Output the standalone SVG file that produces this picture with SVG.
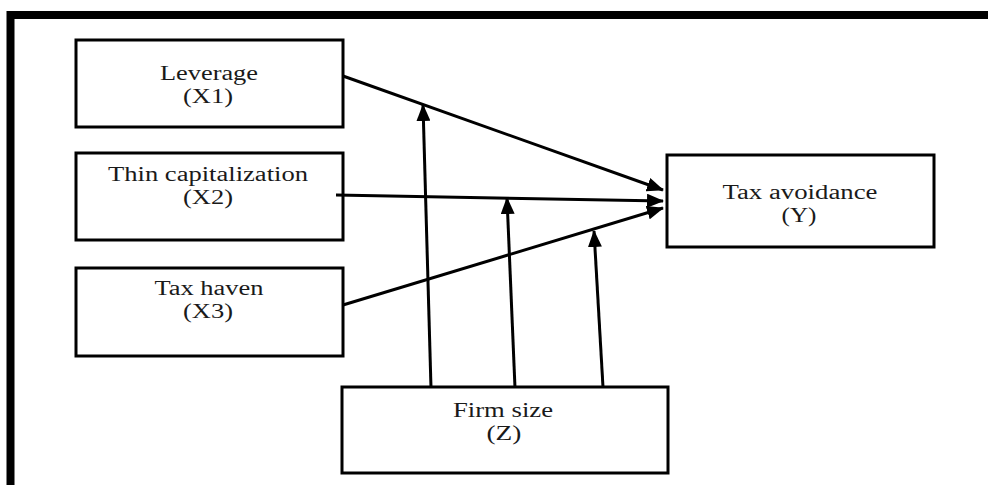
<svg xmlns="http://www.w3.org/2000/svg" width="988" height="485" viewBox="0 0 988 485">
<style>
.box{fill:#fff;stroke:#000;stroke-width:3}
.lbl{font-family:"Liberation Serif","Times New Roman",serif;font-size:20px;fill:#1a1a1a;text-anchor:middle}
.conn{stroke:#000;stroke-width:3;fill:none;marker-end:url(#ah)}
.frame{fill:none;stroke:#000;stroke-width:8}
</style>
<defs>
<marker id="ah" markerUnits="userSpaceOnUse" markerWidth="17" markerHeight="14" refX="16" refY="7" orient="auto">
<path d="M0,0 L17,7 L0,14 Z" fill="#000"/>
</marker>
</defs>
<rect width="988" height="485" fill="#fff"/>
<path class="frame" d="M10.5,485 V15 H988"/>
<g id="leverage">
<rect class="box" x="76" y="40" width="267" height="87"/>
<text class="lbl" x="209" y="80" textLength="98" lengthAdjust="spacingAndGlyphs">Leverage</text>
<text class="lbl" x="208" y="103" textLength="50" lengthAdjust="spacingAndGlyphs">(X1)</text>
</g>
<g id="thincap">
<rect class="box" x="76" y="153" width="267" height="87"/>
<text class="lbl" x="208" y="181" textLength="200" lengthAdjust="spacingAndGlyphs">Thin capitalization</text>
<text class="lbl" x="208" y="204" textLength="50" lengthAdjust="spacingAndGlyphs">(X2)</text>
</g>
<g id="taxhaven">
<rect class="box" x="76" y="268" width="267" height="88"/>
<text class="lbl" x="209" y="295" textLength="109" lengthAdjust="spacingAndGlyphs">Tax haven</text>
<text class="lbl" x="208" y="318" textLength="50" lengthAdjust="spacingAndGlyphs">(X3)</text>
</g>
<g id="taxavoidance">
<rect class="box" x="667" y="155" width="267" height="92"/>
<text class="lbl" x="800" y="199" textLength="155" lengthAdjust="spacingAndGlyphs">Tax avoidance</text>
<text class="lbl" x="799" y="222" textLength="35" lengthAdjust="spacingAndGlyphs">(Y)</text>
</g>
<g id="firmsize">
<rect class="box" x="342" y="387" width="326" height="86"/>
<text class="lbl" x="503" y="417" textLength="100" lengthAdjust="spacingAndGlyphs">Firm size</text>
<text class="lbl" x="504" y="440" textLength="35" lengthAdjust="spacingAndGlyphs">(Z)</text>
</g>
<g id="connectors">
<line class="conn" x1="343" y1="76" x2="663" y2="190"/>
<line class="conn" x1="336" y1="195" x2="663" y2="201"/>
<line class="conn" x1="343" y1="305" x2="663" y2="208"/>
<line class="conn" x1="431" y1="388" x2="423" y2="105"/>
<line class="conn" x1="515" y1="388" x2="507" y2="198"/>
<line class="conn" x1="603" y1="387" x2="594" y2="231"/>
</g>
</svg>
